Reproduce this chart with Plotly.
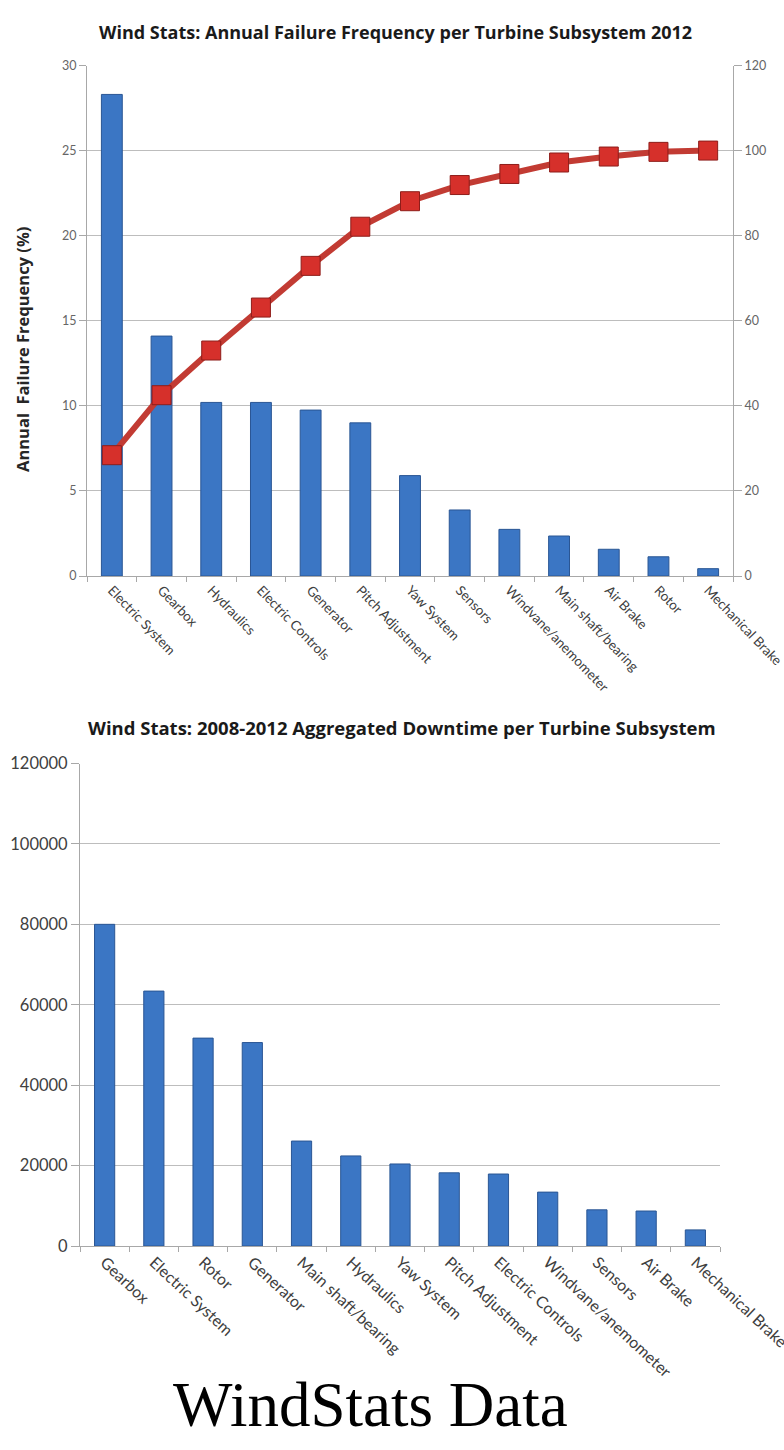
import plotly.graph_objects as go

W, H = 784, 1450

# ---- data: top chart (annual failure frequency 2012) ----
failure_categories = ["Electric System", "Gearbox", "Hydraulics", "Electric Controls", "Generator",
                      "Pitch Adjustment", "Yaw System", "Sensors", "Windvane/anemometer",
                      "Main shaft/bearing", "Air Brake", "Rotor", "Mechanical Brake"]
failure_freq = [28.3, 14.1, 10.2, 10.2, 9.75, 9.0, 5.9, 3.88, 2.74, 2.35, 1.57, 1.13, 0.43]
cumulative_pct = [28.4, 42.5, 53.0, 63.1, 72.9, 82.1, 88.1, 91.9, 94.5, 97.2, 98.6, 99.7, 100.0]

# ---- data: bottom chart (aggregated downtime 2008-2012) ----
downtime_categories = ["Gearbox", "Electric System", "Rotor", "Generator", "Main shaft/bearing",
                       "Hydraulics", "Yaw System", "Pitch Adjustment", "Electric Controls",
                       "Windvane/anemometer", "Sensors", "Air Brake", "Mechanical Brake"]
downtime_hours = [80000, 63400, 51700, 50600, 26100, 22400, 20400, 18200, 17900, 13400, 9000, 8700, 4000]

top_title = "Wind Stats: Annual Failure Frequency per Turbine Subsystem 2012"
bottom_title = "Wind Stats: 2008-2012 Aggregated Downtime per Turbine Subsystem"
top_ytitle = "Annual  Failure Frequency (%)"
caption = "WindStats Data"


def px(x):
    return x / W


def py(y):
    return 1 - y / H


FONT = "Lato"
TITLE_FONT = "Open Sans"
BAR = "#3b76c4"
BAR_EDGE = "#2a5694"
GRID = "#bdbdbd"
AXIS = "#a8a8a8"

fig = go.Figure()

fig.add_trace(go.Bar(x=failure_categories, y=failure_freq, width=0.42,
                     marker=dict(color=BAR, line=dict(color=BAR_EDGE, width=1)),
                     xaxis="x", yaxis="y", showlegend=False))
fig.add_trace(go.Scatter(x=failure_categories, y=cumulative_pct, mode="lines+markers",
                         line=dict(color="#c23b33", width=6),
                         marker=dict(symbol="square", size=19, color="#d6302b",
                                     line=dict(color="#8e1d1a", width=1)),
                         xaxis="x", yaxis="y2", showlegend=False))
fig.add_trace(go.Bar(x=downtime_categories, y=downtime_hours, width=0.41,
                     marker=dict(color=BAR, line=dict(color=BAR_EDGE, width=1)),
                     xaxis="x2", yaxis="y3", showlegend=False))

common_x = dict(type="category", showgrid=False, showline=True, linecolor=AXIS, linewidth=1,
                ticks="outside", tickson="boundaries", ticklen=5, tickcolor=AXIS,
                zeroline=False, automargin=False)

fig.update_layout(
    width=W, height=H, autosize=False,
    margin=dict(l=0, r=0, t=0, b=0, pad=0),
    paper_bgcolor="white", plot_bgcolor="white",
    font=dict(family=FONT, color="#404040"),
    xaxis=dict(common_x, domain=[px(87), px(733)], anchor="y", range=[-0.5, 12.5],
               tickangle=46, tickfont=dict(size=13.5, color="#404040")),
    yaxis=dict(domain=[py(576), py(65.5)], anchor="x", range=[0, 30], dtick=5,
               showgrid=True, gridcolor=GRID, gridwidth=1, showline=True, linecolor=AXIS,
               ticks="outside", ticklen=7, tickcolor=AXIS, zeroline=False, automargin=False,
               tickfont=dict(size=12.5, color="#666666")),
    yaxis2=dict(overlaying="y", side="right", anchor="x", range=[0, 120], dtick=20,
                showgrid=False, showline=True, linecolor=AXIS, ticks="outside", ticklen=8,
                tickcolor=AXIS, zeroline=False, automargin=False,
                tickfont=dict(size=12.5, color="#666666")),
    xaxis2=dict(common_x, domain=[px(80), px(720)], anchor="y3", range=[-0.5, 12.5],
                tickangle=43, tickfont=dict(size=16, color="#404040")),
    yaxis3=dict(domain=[py(1246), py(763.5)], anchor="x2", range=[0, 120000], dtick=20000,
                showgrid=True, gridcolor=GRID, gridwidth=1, showline=True, linecolor=AXIS,
                ticks="outside", ticklen=8, tickcolor=AXIS, zeroline=False, automargin=False,
                tickformat="d", tickfont=dict(size=16.5, color="#404040")),
    annotations=[
        dict(text="<b>" + top_title + "</b>", x=px(396), y=py(32), xref="paper", yref="paper",
             showarrow=False, font=dict(size=18, color="#1a1a1a", family=TITLE_FONT),
             xanchor="center", yanchor="middle"),
        dict(text="<b>" + bottom_title + "</b>", x=px(402), y=py(728), xref="paper", yref="paper",
             showarrow=False, font=dict(size=18.5, color="#1a1a1a", family=TITLE_FONT),
             xanchor="center", yanchor="middle"),
        dict(text="<b>" + top_ytitle + "</b>", x=px(22), y=py(350), xref="paper", yref="paper",
             showarrow=False, textangle=-90, font=dict(size=16.5, color="#262626", family=TITLE_FONT),
             xanchor="center", yanchor="middle"),
        dict(text=caption, x=px(370), y=py(1405), xref="paper", yref="paper",
             showarrow=False, font=dict(size=63, color="#000000", family="Liberation Serif"),
             xanchor="center", yanchor="middle"),
    ],
)

fig.write_html("out.html")
